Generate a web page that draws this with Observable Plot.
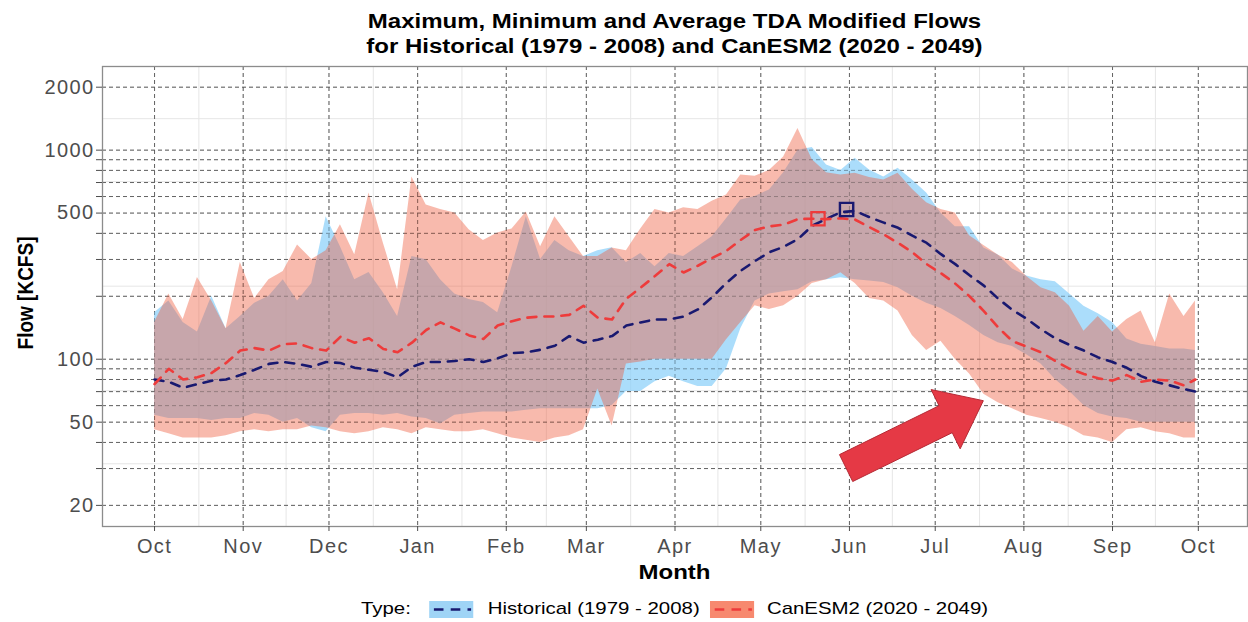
<!DOCTYPE html>
<html>
<head>
<meta charset="utf-8">
<script src="https://cdn.jsdelivr.net/npm/d3@7"></script>
<script src="https://cdn.jsdelivr.net/npm/@observablehq/plot@0.6"></script>
<style>
  html, body { margin: 0; padding: 0; background: #fff; }
  body { width: 1248px; height: 622px; position: relative; overflow: hidden;
         font-family: "Liberation Sans", Arial, Helvetica, sans-serif; }
  .title { position: absolute; left: 102px; width: 1145px; text-align: center; font-weight: bold;
           font-size: 20px; line-height: 24px; color: #000; white-space: nowrap;
           transform: scaleX(1.2); transform-origin: 50% 50%; }
  #chart { position: absolute; left: 0; top: 58px; }
  #chart g[aria-label$="tick label"] text { letter-spacing: 1.4px; }
  #xlab { position: absolute; left: 102px; width: 1145px; top: 560px; text-align: center; font-weight: bold;
          font-size: 20px; line-height: 24px; color: #000; transform: scaleX(1.2); transform-origin: 50% 50%; }
  #ylab { position: absolute; left: 26px; top: 293px; font-weight: bold; font-size: 19px; line-height: 22px;
          white-space: nowrap; color: #000; transform: translate(-50%, -50%) rotate(-90deg) scaleY(1.2); }
  #legend { position: absolute; left: 102px; width: 1145px; top: 598px; height: 22px; display: flex;
            justify-content: center; align-items: center; font-size: 17px; color: #000; white-space: nowrap;
            transform: scaleX(1.2); transform-origin: 50% 50%; }
  #legend svg { display: block; }
</style>
</head>
<body>
<div class="title" style="top:9px">Maximum, Minimum and Average TDA Modified Flows</div>
<div class="title" style="top:34px">for Historical (1979 - 2008) and CanESM2 (2020 - 2049)</div>
<div id="chart"></div>
<div id="ylab">Flow [KCFS]</div>
<div id="xlab">Month</div>
<div id="legend"></div>
<script>
// ---------------- data ----------------
const waterYearStart = "2001-10-01";
const days = [0,5,10,15,20,25,30,35,40,45,50,55,60,65,70,75,80,85,90,95,100,105,110,115,120,125,130,135,140,145,150,155,160,165,170,175,180,185,190,195,200,205,210,215,220,225,230,235,240,245,250,255,260,265,270,275,280,285,290,295,300,305,310,315,320,325,330,335,340,345,350,355,360,364];

const histMax = [167,190,150,135,200,140,160,185,200,240,190,230,480,345,240,260,208,160,310,299,240,205,193,187,167,277,480,300,370,330,310,330,341,290,320,277,320,310,345,385,470,578,600,645,780,1000,1030,850,800,915,803,743,820,720,624,500,430,430,340,315,270,250,240,235,205,179,165,150,125,118,115,112,112,110];
const histMin = [54,52,52,52,51,52,52,55,54,50,52,47,45,54,55,55,54,55,53,52,49,54,55,56,56,56,57,58,58,58,58,58,60,70,70,78,83,78,74,74,90,140,190,205,210,215,235,240,245,240,237,233,220,200,185,175,160,145,130,120,115,105,95,80,70,60,55,53,52,50,50,50,50,50];
const histAvg = [80,78,73,76,79,80,84,89,95,97,95,92,97,96,91,89,87,82,92,97,97,98,100,97,101,107,108,111,116,129,120,124,129,145,150,155,155,160,173,198,232,265,295,325,345,375,435,470,505,512,478,450,425,390,360,318,285,252,225,195,172,156,139,126,117,110,102,97,91,83,78,75,72,70];

const canMax = [150,205,155,246,190,140,290,195,240,263,352,300,330,440,316,624,360,215,743,547,520,500,416,370,402,420,506,345,480,385,310,310,340,330,420,520,500,530,520,570,610,760,750,800,926,1270,900,780,760,775,740,720,775,650,560,520,500,390,350,315,290,249,220,208,179,136,160,135,155,170,120,205,160,190];
const canMin = [46,44,42,42,42,43,45,46,45,46,46,48,47,45,44,45,47,46,44,47,46,45,45,46,44,42,41,40,42,43,46,72,48,95,97,100,100,100,100,100,124,150,180,173,180,200,230,240,259,230,195,190,170,130,110,122,100,85,68,62,58,54,52,50,47,43,42,40,46,47,45,44,42,42];
const canAvg = [76,90,80,82,86,96,110,113,110,118,119,113,110,128,120,126,112,108,120,138,150,140,130,125,145,152,158,160,160,163,180,158,155,195,220,250,285,260,280,305,330,372,415,432,440,468,470,468,472,465,428,395,360,325,285,258,230,200,170,142,122,115,108,98,90,85,81,79,84,78,80,79,75,80];

const histPeak = {day: 242, value: 520};
const canPeak = {day: 232, value: 470};
const arrowFrom = {day: 242, value: 30};
const arrowTo = {day: 290, value: 63};

const monthLabels = ["Oct","Nov","Dec","Jan","Feb","Mar","Apr","May","Jun","Jul","Aug","Sep","Oct"];
const yTicks = [20,30,40,50,60,70,80,90,100,200,300,400,500,600,700,800,900,1000,2000];
const yLabels = [20,50,100,500,1000,2000];
const yDomain = [15.85, 2512];

const series = ["Historical (1979 - 2008)", "CanESM2 (2020 - 2049)"];
const bandFill = ["#87cefa", "#ef5a3c"];
const bandOpacity = [0.7, 0.42];
const lineColor = ["#191970", "#ee3b3b"];
const legendFill = ["#9fd4f6", "#f7896f"];

// ---------------- build ----------------
const t0 = new Date(waterYearStart + "T00:00:00Z");
const toDate = d => d3.utcDay.offset(t0, d);
const rows = days.map((d, i) => ({
  date: toDate(d),
  histMax: histMax[i], histMin: histMin[i], histAvg: histAvg[i],
  canMax: canMax[i], canMin: canMin[i], canAvg: canAvg[i]
}));
const monthDates = d3.utcMonth.range(t0, d3.utcDay.offset(t0, 366));
const midMonths = monthDates.slice(0, -1).map((m, i) => new Date((+m + +monthDates[i + 1]) / 2));
const yMinor = yLabels.slice(0, -1).map((v, i) => Math.sqrt(v * yLabels[i + 1]));

const first = rows[0].date, last = rows[rows.length - 1].date;
const pad = (last - first) * 0.05;
const xDomain = [new Date(+first - pad), new Date(+last + pad)];

function blockArrow(index, scales) {
  const x0 = scales.x(toDate(arrowFrom.day)), y0 = scales.y(arrowFrom.value);
  const x1 = scales.x(toDate(arrowTo.day)), y1 = scales.y(arrowTo.value);
  const dx = x1 - x0, dy = y1 - y0, L = Math.hypot(dx, dy);
  const ux = dx / L, uy = dy / L, nx = -uy, ny = ux;
  const sw = 15, hw = 33, hl = 42;
  const bx = x1 - ux * hl, by = y1 - uy * hl;
  const pts = [
    [x0 + nx * sw, y0 + ny * sw], [bx + nx * sw, by + ny * sw], [bx + nx * hw, by + ny * hw],
    [x1, y1],
    [bx - nx * hw, by - ny * hw], [bx - nx * sw, by - ny * sw], [x0 - nx * sw, y0 - ny * sw]
  ];
  const p = document.createElementNS("http://www.w3.org/2000/svg", "polygon");
  p.setAttribute("points", pts.map(q => q.join(",")).join(" "));
  p.setAttribute("fill", "#e53945");
  p.setAttribute("stroke", "#b52a35");
  p.setAttribute("stroke-width", "1");
  return p;
}

const dash = {strokeDasharray: "4,3", stroke: "#5a5a5a"};

const plot = Plot.plot({
  width: 1248, height: 530,
  marginLeft: 102, marginRight: 1, marginTop: 8, marginBottom: 62,
  style: {fontFamily: "'Liberation Sans', Arial, sans-serif", background: "#fff"},
  x: {type: "utc", domain: xDomain},
  y: {type: "log", domain: yDomain},
  marks: [
    Plot.gridX({ticks: midMonths, stroke: "#e6e6e6", strokeOpacity: 1}),
    Plot.gridY({ticks: yMinor, stroke: "#e6e6e6", strokeOpacity: 1}),
    Plot.gridX({ticks: monthDates, ...dash, strokeOpacity: 0.9}),
    Plot.gridY({ticks: yTicks, ...dash, strokeOpacity: 0.9}),
    Plot.areaY(rows, {x: "date", y1: "histMin", y2: "histMax", fill: bandFill[0], fillOpacity: bandOpacity[0]}),
    Plot.areaY(rows, {x: "date", y1: "canMin", y2: "canMax", fill: bandFill[1], fillOpacity: bandOpacity[1]}),
    Plot.gridX({ticks: monthDates, ...dash, strokeOpacity: 0.3}),
    Plot.gridY({ticks: yTicks, ...dash, strokeOpacity: 0.3}),
    Plot.line(rows, {x: "date", y: "histAvg", stroke: lineColor[0], strokeWidth: 2.6, strokeDasharray: "9,8"}),
    Plot.line(rows, {x: "date", y: "canAvg", stroke: lineColor[1], strokeWidth: 2.6, strokeDasharray: "9,8"}),
    Plot.dot([histPeak], {x: d => toDate(d.day), y: "value", symbol: "square", r: 7.5, stroke: lineColor[0], strokeWidth: 2.4, fill: "none"}),
    Plot.dot([canPeak], {x: d => toDate(d.day), y: "value", symbol: "square", r: 7.5, stroke: lineColor[1], strokeWidth: 2.2, fill: "none"}),
    blockArrow,
    Plot.frame({stroke: "#8c8c8c", strokeWidth: 1.3}),
    Plot.axisY({ticks: yTicks, tickFormat: d => yLabels.includes(d) ? String(d) : "", tickSize: 6, tickPadding: 2,
                fontSize: 20, color: "#4d4d4d", label: null}),
    Plot.axisX({ticks: monthDates, tickFormat: d => monthLabels[monthDates.findIndex(m => +m === +d)],
                tickSize: 5, tickPadding: 7, fontSize: 20, color: "#4d4d4d", label: null})
  ]
});
document.getElementById("chart").appendChild(plot);

// legend
const leg = document.getElementById("legend");
const mk = (html) => { const s = document.createElement("span"); s.innerHTML = html; return s; };
leg.appendChild(mk("Type:"));
series.forEach((name, i) => {
  const key = `<svg width="37" height="17" style="margin:0 ${i === 0 ? 12 : 11}px 0 ${i === 0 ? 15 : 8}px">
    <rect width="37" height="17" fill="${legendFill[i]}"/>
    <line x1="3" x2="35" y1="8.5" y2="8.5" stroke="${lineColor[i]}" stroke-width="2.6" stroke-dasharray="8,6" stroke-dashoffset="-1"/></svg>`;
  leg.appendChild(mk(key));
  leg.appendChild(mk(name));
});
</script>
</body>
</html>
